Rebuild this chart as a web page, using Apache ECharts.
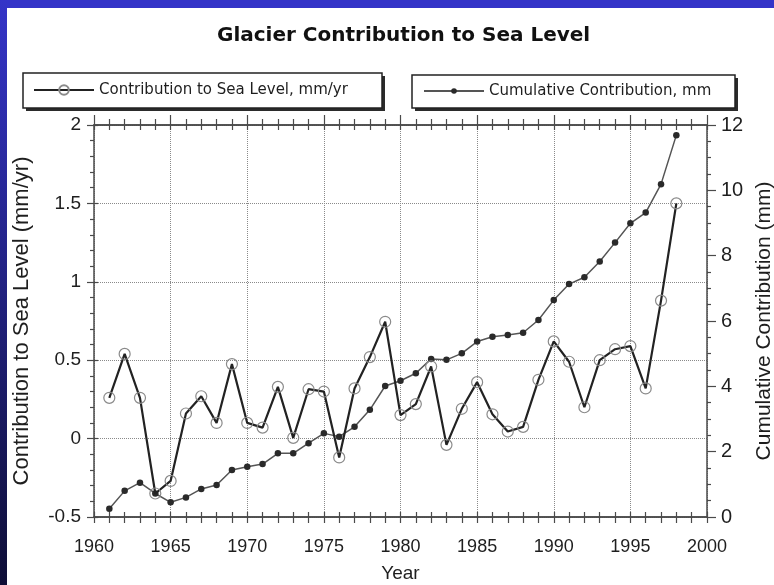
<!DOCTYPE html>
<html><head><meta charset="utf-8">
<script src="https://cdn.jsdelivr.net/npm/echarts@6/dist/echarts.min.js"></script>
<style>html,body{margin:0;padding:0;background:#fff}#c{width:774px;height:585px}</style>
</head><body><div id="c"></div>
<script>
// ---- data ----
const years = [1961,1962,1963,1964,1965,1966,1967,1968,1969,1970,1971,1972,1973,1974,1975,1976,1977,1978,1979,1980,
               1981,1982,1983,1984,1985,1986,1987,1988,1989,1990,1991,1992,1993,1994,1995,1996,1997,1998];
const rate = [0.26,0.54,0.26,-0.35,-0.27,0.16,0.27,0.10,0.475,0.10,0.07,0.33,0.005,0.315,0.30,-0.12,0.32,0.52,0.745,0.15,
              0.22,0.46,-0.04,0.19,0.36,0.155,0.045,0.075,0.375,0.62,0.49,0.20,0.50,0.57,0.59,0.32,0.88,1.50];
const cumulative = [0.25,0.80,1.05,0.72,0.45,0.60,0.86,0.98,1.44,1.54,1.62,1.95,1.95,2.26,2.56,2.46,2.76,3.28,4.01,4.17,
                    4.40,4.84,4.81,5.01,5.37,5.52,5.57,5.64,6.03,6.64,7.13,7.34,7.82,8.40,8.99,9.32,10.19,11.69];
const xTicks = [1960, 2000, 5];      // min, max, step
const leftTicks = [-0.5, 2, 0.5];
const rightTicks = [0, 12, 2];
const titleText = 'Glacier Contribution to Sea Level';
const rateName = 'Contribution to Sea Level, mm/yr';
const cumName = 'Cumulative Contribution, mm';
const xName = 'Year';
const leftName = 'Contribution to Sea Level (mm/yr)';
const rightName = 'Cumulative Contribution (mm)';

// ---- chart ----
const chart = echarts.init(document.getElementById('c'), null, {renderer: 'canvas'});
const AX = '#4a4a4a';
const TXT = '#1e1e1e';

function xAxisDef(pos, inside, major, minor, extra) {
  return Object.assign({
    type: 'value', position: pos, gridIndex: 0,
    min: xTicks[0], max: xTicks[1], interval: xTicks[2],
    axisLine: {show: true, onZero: false, lineStyle: {color: AX, width: 1.5}},
    axisTick: {show: true, inside: inside, length: major, lineStyle: {color: AX, width: 1.2}},
    minorTick: {show: true, splitNumber: 5, length: minor, lineStyle: {color: AX, width: 1.2}},
    axisLabel: {show: false},
    splitLine: {show: false}
  }, extra || {});
}

function legendBox(x, y, w, h) {
  return [
    {type: 'rect', silent: true, z: 1, shape: {x: x + 3, y: y + 3, width: w, height: h},
     style: {fill: '#2b2b2b'}},
    {type: 'rect', silent: true, z: 2, shape: {x: x, y: y, width: w, height: h},
     style: {fill: '#ffffff', stroke: '#222', lineWidth: 1.5}}
  ];
}

const legendText = {fontFamily: 'DejaVu Sans', fontSize: 15, color: TXT, lineHeight: 18};

const option = {
  animation: false,
  backgroundColor: '#ffffff',
  title: {
    text: titleText, left: 217, top: 26, padding: 0,
    textStyle: {fontFamily: 'DejaVu Sans', fontWeight: 'bold', fontSize: 20, color: '#111'}
  },
  legend: [
    {
      data: [rateName], left: 33, top: 81, selectedMode: false, z: 4,
      itemWidth: 60, itemHeight: 12, padding: 0, itemGap: 0,
      backgroundColor: 'transparent', borderWidth: 0,
      textStyle: legendText
    },
    {
      data: [cumName], left: 423, top: 82, selectedMode: false, z: 4,
      itemWidth: 60, itemHeight: 7, padding: 0, itemGap: 0,
      backgroundColor: 'transparent', borderWidth: 0,
      textStyle: legendText
    }
  ],
  grid: {left: 94, right: 67, top: 125, bottom: 68, containLabel: false, outerBoundsMode: 'none'},
  xAxis: [
    xAxisDef('bottom', false, 6, 6, {
      axisLabel: {show: true, margin: 21, formatter: v => String(v),
                  fontFamily: 'Liberation Sans', fontSize: 18, color: TXT},
      splitLine: {show: true, lineStyle: {type: 'dotted', color: '#8a8a8a', width: 1}},
      name: xName, nameLocation: 'middle', nameGap: 47,
      nameTextStyle: {fontFamily: 'Liberation Sans', fontSize: 19, color: TXT}
    }),
    xAxisDef('bottom', true, 5, 5),
    xAxisDef('top', false, 10, 6),
    xAxisDef('top', true, 5, 5)
  ],
  yAxis: [
    {
      type: 'value', position: 'left', min: leftTicks[0], max: leftTicks[1], interval: leftTicks[2],
      axisLine: {show: true, onZero: false, lineStyle: {color: AX, width: 1.5}},
      axisTick: {show: true, inside: false, length: 7, lineStyle: {color: AX, width: 1.2}},
      minorTick: {show: true, splitNumber: 5, length: 4, lineStyle: {color: AX, width: 1.2}},
      axisLabel: {margin: 13, formatter: v => String(v),
                  fontFamily: 'Liberation Sans', fontSize: 19, color: TXT},
      splitLine: {show: true, lineStyle: {type: 'dotted', color: '#8a8a8a', width: 1}},
      name: leftName, nameLocation: 'middle', nameGap: 61, nameRotate: 90,
      nameTextStyle: {fontFamily: 'Liberation Sans', fontSize: 22, color: TXT}
    },
    {
      type: 'value', position: 'right', min: rightTicks[0], max: rightTicks[1], interval: rightTicks[2],
      axisLine: {show: true, onZero: false, lineStyle: {color: AX, width: 1.5}},
      axisTick: {show: true, inside: false, length: 9, lineStyle: {color: AX, width: 1.2}},
      minorTick: {show: true, splitNumber: 4, length: 4, lineStyle: {color: AX, width: 1.2}},
      axisLabel: {margin: 14, formatter: v => String(v),
                  fontFamily: 'Liberation Sans', fontSize: 20, color: TXT},
      splitLine: {show: false},
      name: rightName, nameLocation: 'middle', nameGap: 45, nameRotate: 90,
      nameTextStyle: {fontFamily: 'Liberation Sans', fontSize: 21, color: TXT}
    },
    {
      type: 'value', position: 'left', min: leftTicks[0], max: leftTicks[1], interval: leftTicks[2],
      axisLine: {show: false},
      axisTick: {show: true, inside: true, length: 4, lineStyle: {color: AX, width: 1.2}},
      axisLabel: {show: false}, splitLine: {show: false}
    }
  ],
  graphic: [].concat(
    legendBox(23, 73, 359, 35),
    legendBox(412, 75, 323, 33),
    [
      {type: 'rect', left: 0, top: 0, silent: true, z: 100, shape: {width: 774, height: 8}, style: {fill: '#3434c8'}},
      {type: 'rect', left: 0, top: 0, silent: true, z: 100, shape: {width: 7, height: 585},
       style: {fill: new echarts.graphic.LinearGradient(0, 0, 0, 1, [
         {offset: 0, color: '#3434c8'}, {offset: 1, color: '#0e0e36'}])}}
    ]
  ),
  series: [
    {
      name: rateName, type: 'line', xAxisIndex: 0, yAxisIndex: 0,
      data: years.map((y, i) => [y, rate[i]]),
      symbol: 'circle', symbolSize: 11, z: 3,
      itemStyle: {color: 'rgba(255,255,255,0)', borderColor: '#8a8a8a', borderWidth: 1.2},
      lineStyle: {color: '#222', width: 2.2}
    },
    {
      name: cumName, type: 'line', xAxisIndex: 0, yAxisIndex: 1,
      data: years.map((y, i) => [y, cumulative[i]]),
      symbol: 'circle', symbolSize: 6.5, z: 2,
      itemStyle: {color: '#2a2a2a'},
      lineStyle: {color: '#555', width: 1.5}
    }
  ]
};
chart.setOption(option);
</script>
</body></html>
